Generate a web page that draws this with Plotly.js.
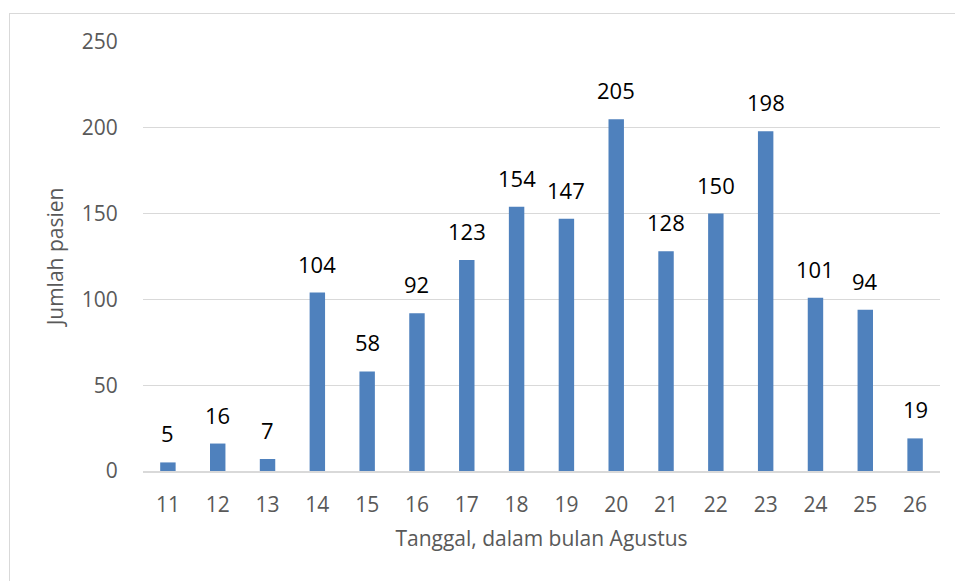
<!DOCTYPE html>
<html>
<head>
<meta charset="utf-8">
<script src="https://cdn.plot.ly/plotly-3.0.1.min.js"></script>
<style>
  html, body { margin: 0; padding: 0; background: #fff; }
  #frame { position: absolute; left: 9px; top: 13px; width: 960px; height: 600px; border: 1px solid #d9d9d9; box-sizing: border-box; }
  #chart { position: absolute; left: 0; top: 0; width: 955px; height: 581px; }
</style>
</head>
<body>
<div id="frame"></div>
<div id="chart"></div>
<script>
const categories = ['11','12','13','14','15','16','17','18','19','20','21','22','23','24','25','26'];
const values = [5, 16, 7, 104, 58, 92, 123, 154, 147, 205, 128, 150, 198, 101, 94, 19];
const yTicks = [0, 50, 100, 150, 200, 250];

const FONT = 'Open Sans, Noto Sans, sans-serif';

const trace = {
  type: 'bar',
  x: categories,
  y: values,
  marker: { color: '#4f81bd', line: { width: 0 } },
  hoverinfo: 'x+y'
};

const annotations = categories.map((c, i) => ({
  x: i, y: values[i], xref: 'x', yref: 'y',
  text: String(values[i]),
  showarrow: false,
  yanchor: 'bottom',
  yshift: 12,
  font: { family: FONT, size: 22, color: '#000000' }
}));

const layout = {
  width: 955, height: 581,
  margin: { l: 143, r: 15, t: 42, b: 110 },
  paper_bgcolor: 'rgba(0,0,0,0)',
  plot_bgcolor: 'rgba(0,0,0,0)',
  bargap: 0.69,
  showlegend: false,
  font: { family: FONT, size: 21, color: '#595959' },
  xaxis: {
    type: 'category',
    range: [-0.5, categories.length - 0.5],
    autorange: false,
    ticks: 'outside', ticklen: 14, tickcolor: 'rgba(0,0,0,0)',
    tickfont: { family: FONT, size: 21, color: '#595959' },
    showgrid: false,
    showline: true, linecolor: '#d9d9d9', linewidth: 1.5,
    title: { text: 'Tanggal, dalam bulan Agustus', font: { family: FONT, size: 21, color: '#595959' }, standoff: 14 },
    automargin: false
  },
  yaxis: {
    range: [0, 250],
    autorange: false,
    tickvals: yTicks,
    ticks: 'outside', ticklen: 20, tickcolor: 'rgba(0,0,0,0)',
    tickfont: { family: FONT, size: 21, color: '#595959' },
    showgrid: true, gridcolor: '#d9d9d9', gridwidth: 1,
    zeroline: false,
    showline: false,
    title: { text: 'Jumlah pasien', font: { family: FONT, size: 21, color: '#595959' }, standoff: 12 },
    automargin: false
  },
  annotations: annotations
};

Plotly.newPlot('chart', [trace], layout, { displayModeBar: false, staticPlot: true });
</script>
</body>
</html>
